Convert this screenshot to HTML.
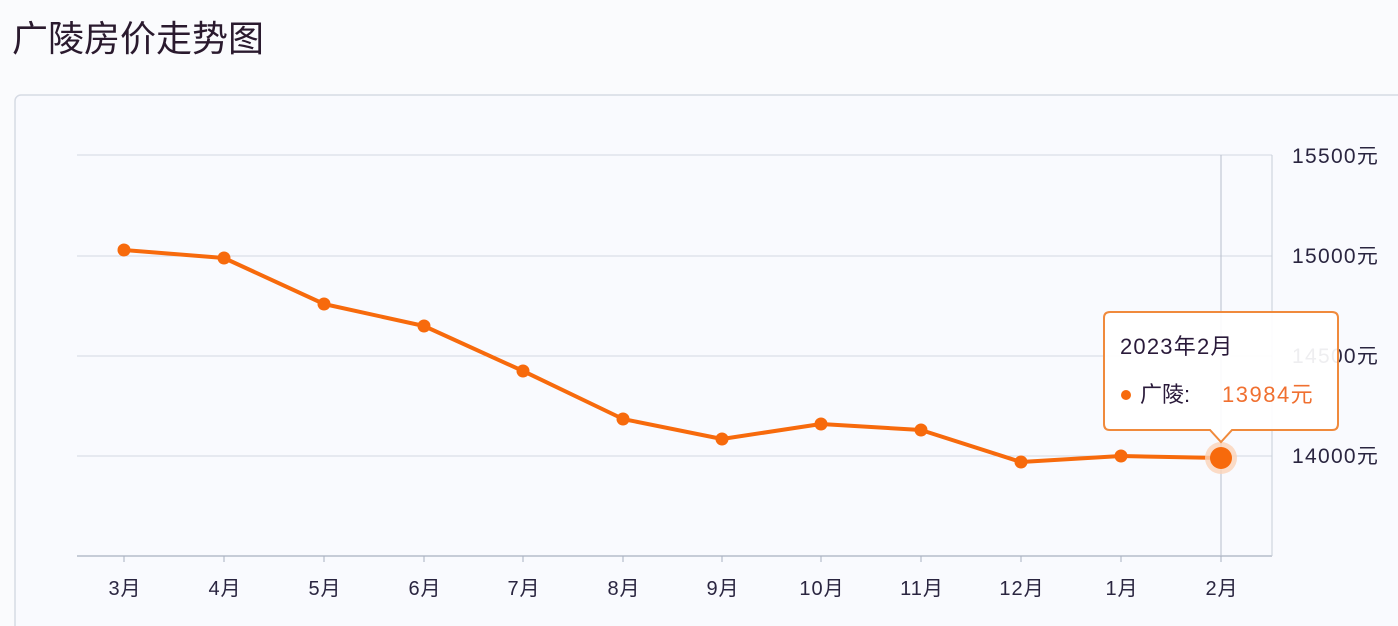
<!DOCTYPE html>
<html><head><meta charset="utf-8"><style>
html,body{margin:0;padding:0;background:#fafbfd;}
svg{display:block;font-family:"Liberation Sans","Noto Sans CJK SC",sans-serif;}
</style></head><body>
<svg width="1398" height="626" viewBox="0 0 1398 626">
<rect width="1398" height="626" fill="#fafbfd"/>
<text x="12" y="51" font-size="36" fill="#2a1a2e">广陵房价走势图</text>
<rect x="15" y="95" width="1400" height="560" rx="6" fill="#f9fafe" stroke="#d6dbe4" stroke-width="1.5"/>
<g stroke="#d3d8e2" stroke-width="1">
<line x1="77" y1="155" x2="1272" y2="155"/>
<line x1="77" y1="256" x2="1272" y2="256"/>
<line x1="77" y1="356" x2="1272" y2="356"/>
<line x1="77" y1="456" x2="1272" y2="456"/>
</g>
<line x1="77" y1="556" x2="1272" y2="556" stroke="#a8b0c0" stroke-width="1.2"/>
<line x1="1272" y1="155" x2="1272" y2="556" stroke="#c8ced8" stroke-width="1"/>
<line x1="1221" y1="155" x2="1221" y2="556" stroke="#b8bfcc" stroke-width="1"/>
<g stroke="#a8b0c0" stroke-width="1">
<line x1="124" y1="556" x2="124" y2="562"/><line x1="224" y1="556" x2="224" y2="562"/><line x1="324" y1="556" x2="324" y2="562"/><line x1="424" y1="556" x2="424" y2="562"/><line x1="523" y1="556" x2="523" y2="562"/><line x1="623" y1="556" x2="623" y2="562"/><line x1="722" y1="556" x2="722" y2="562"/><line x1="821" y1="556" x2="821" y2="562"/><line x1="921" y1="556" x2="921" y2="562"/><line x1="1021" y1="556" x2="1021" y2="562"/><line x1="1121" y1="556" x2="1121" y2="562"/><line x1="1221" y1="556" x2="1221" y2="562"/>
</g>
<g font-size="20" letter-spacing="1" fill="#2a2540" text-anchor="middle">
<text x="125" y="595">3月</text><text x="225" y="595">4月</text><text x="325" y="595">5月</text><text x="425" y="595">6月</text><text x="524" y="595">7月</text><text x="624" y="595">8月</text><text x="723" y="595">9月</text><text x="822" y="595">10月</text><text x="922" y="595">11月</text><text x="1022" y="595">12月</text><text x="1122" y="595">1月</text><text x="1222" y="595">2月</text>
</g>
<g font-size="21" letter-spacing="1.3" fill="#2a2540">
<text x="1292" y="163">15500元</text><text x="1292" y="263">15000元</text><text x="1292" y="363">14500元</text><text x="1292" y="463">14000元</text>
</g>
<polyline fill="none" stroke="#f76a0c" stroke-width="4" stroke-linejoin="round" points="124,250 224,258 324,304 424,326 523,371 623,419 722,439 821,424 921,430 1021,462 1121,456 1221,458"/>
<g fill="#f76a0c">
<circle cx="124" cy="250" r="6.5"/><circle cx="224" cy="258" r="6.5"/><circle cx="324" cy="304" r="6.5"/><circle cx="424" cy="326" r="6.5"/><circle cx="523" cy="371" r="6.5"/><circle cx="623" cy="419" r="6.5"/><circle cx="722" cy="439" r="6.5"/><circle cx="821" cy="424" r="6.5"/><circle cx="921" cy="430" r="6.5"/><circle cx="1021" cy="462" r="6.5"/><circle cx="1121" cy="456" r="6.5"/>
</g>
<circle cx="1221" cy="458" r="16" fill="#fbd3b8" opacity="0.8"/>
<circle cx="1221" cy="458" r="11" fill="#f76a0c"/>
<path d="M1110,312 H1332 Q1338,312 1338,318 V424 Q1338,430 1332,430 H1232 L1221,442 L1210,430 H1110 Q1104,430 1104,424 V318 Q1104,312 1110,312 Z" fill="#ffffff" fill-opacity="0.92" stroke="#f08a3c" stroke-width="2"/>
<text x="1120" y="354" font-size="22" letter-spacing="1.2" fill="#2a1a3a">2023年2月</text>
<circle cx="1126" cy="395" r="5" fill="#f76a0c"/>
<text x="1140" y="402" font-size="22" fill="#2a1a3a">广陵:</text>
<text x="1222" y="402" font-size="22" letter-spacing="1.5" fill="#f07030">13984元</text>
</svg>
</body></html>
